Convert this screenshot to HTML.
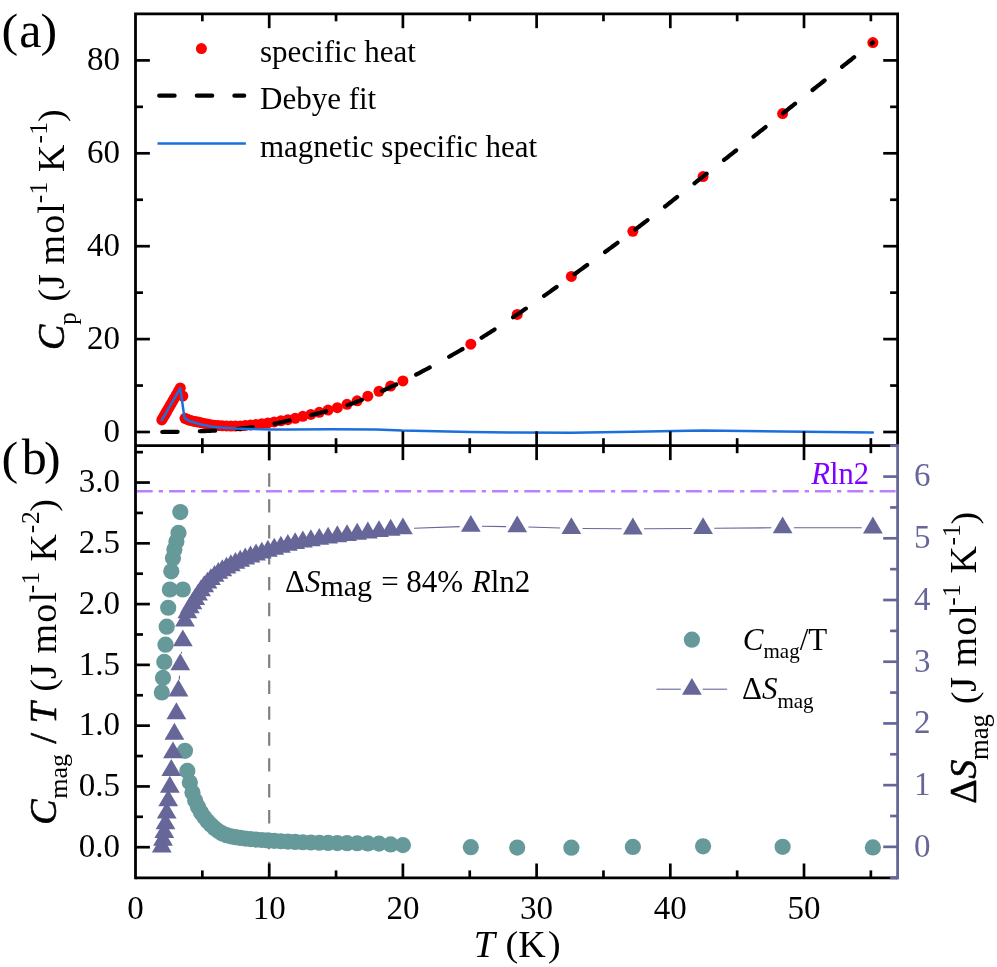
<!DOCTYPE html>
<html lang="en">
<head>
<meta charset="utf-8">
<title>Specific heat</title>
<style>html,body{margin:0;padding:0;background:#fff;}body{width:997px;height:967px;overflow:hidden;font-family:"Liberation Serif",serif;}svg{display:block;will-change:transform;}</style>
</head>
<body>
<svg width="997" height="967" viewBox="0 0 997 967">
<rect width="997" height="967" fill="#fff"/>
<line x1="269.2" y1="447.4" x2="269.2" y2="877.9" stroke="#808080" stroke-width="2.2" stroke-dasharray="13.4 12.5"/>
<line x1="136.7" y1="491.22" x2="897.6" y2="491.22" stroke="#bb80ff" stroke-width="2.6" stroke-dasharray="16 6 4.3 6"/>
<g fill="#ff0000"><circle cx="161.8" cy="419.92" r="5.5"/><circle cx="163" cy="417.85" r="5.5"/><circle cx="164.3" cy="415.61" r="5.5"/><circle cx="165.5" cy="413.54" r="5.5"/><circle cx="166.7" cy="411.47" r="5.5"/><circle cx="168.2" cy="408.88" r="5.5"/><circle cx="169.85" cy="406.04" r="5.5"/><circle cx="171.3" cy="403.54" r="5.5"/><circle cx="172.95" cy="400.69" r="5.5"/><circle cx="174.4" cy="398.19" r="5.5"/><circle cx="176.4" cy="394.74" r="5.5"/><circle cx="178.5" cy="391.12" r="5.5"/><circle cx="180.3" cy="388.01" r="5.5"/><circle cx="182.83" cy="396" r="5.5"/><circle cx="184.97" cy="418.3" r="5.5"/><circle cx="187.34" cy="419.29" r="5.5"/><circle cx="189.83" cy="420.24" r="5.5"/><circle cx="192.44" cy="420.93" r="5.5"/><circle cx="195.17" cy="421.51" r="5.5"/><circle cx="198.03" cy="422.07" r="5.5"/><circle cx="201.04" cy="422.68" r="5.5"/><circle cx="204.18" cy="423.39" r="5.5"/><circle cx="207.48" cy="424.11" r="5.5"/><circle cx="210.93" cy="424.73" r="5.5"/><circle cx="214.55" cy="425.18" r="5.5"/><circle cx="218.34" cy="425.56" r="5.5"/><circle cx="222.32" cy="425.85" r="5.5"/><circle cx="226.49" cy="425.97" r="5.5"/><circle cx="230.85" cy="426.06" r="5.5"/><circle cx="235.43" cy="426.1" r="5.5"/><circle cx="240.22" cy="425.94" r="5.5"/><circle cx="245.25" cy="425.46" r="5.5"/><circle cx="250.51" cy="424.97" r="5.5"/><circle cx="256.03" cy="424.43" r="5.5"/><circle cx="261.82" cy="423.77" r="5.5"/><circle cx="267.88" cy="422.88" r="5.5"/><circle cx="274.23" cy="421.9" r="5.5"/><circle cx="280.89" cy="420.86" r="5.5"/><circle cx="287.87" cy="419.69" r="5.5"/><circle cx="295.18" cy="418.29" r="5.5"/><circle cx="302.84" cy="416.3" r="5.5"/><circle cx="310.87" cy="414.43" r="5.5"/><circle cx="319.29" cy="412.27" r="5.5"/><circle cx="328.11" cy="410.09" r="5.5"/><circle cx="337.35" cy="407.66" r="5.5"/><circle cx="347.04" cy="404.36" r="5.5"/><circle cx="357.19" cy="400.77" r="5.5"/><circle cx="367.83" cy="396.14" r="5.5"/><circle cx="378.98" cy="391.3" r="5.5"/><circle cx="390.66" cy="386.11" r="5.5"/><circle cx="402.9" cy="380.91" r="5.5"/><circle cx="470.82" cy="344.21" r="5.5"/><circle cx="517.22" cy="314.48" r="5.5"/><circle cx="571.37" cy="276.39" r="5.5"/><circle cx="632.87" cy="231.34" r="5.5"/><circle cx="703.06" cy="176.53" r="5.5"/><circle cx="782.62" cy="113.59" r="5.5"/><circle cx="872.87" cy="42.52" r="5.5"/></g>
<path d="M162.24 431.99 L164.02 431.97 L165.8 431.96 L167.58 431.94 L169.36 431.93 L171.15 431.91 L172.93 431.89 L174.71 431.87 L176.49 431.85 L178.27 431.83 L180.05 431.8 L181.83 431.77 L183.61 431.74 L185.39 431.71 L187.17 431.67 L188.96 431.63 L190.74 431.58 L192.52 431.53 L194.3 431.47 L196.08 431.41 L197.86 431.34 L199.64 431.27 L201.42 431.2 L203.2 431.13 L204.98 431.05 L206.77 430.97 L208.55 430.89 L210.33 430.8 L212.11 430.71 L213.89 430.62 L215.67 430.52 L217.45 430.41 L219.23 430.31 L221.01 430.2 L222.79 430.09 L224.58 429.97 L226.36 429.85 L228.14 429.72 L229.92 429.59 L231.7 429.46 L233.48 429.31 L235.26 429.16 L237.04 429.01 L238.82 428.83 L240.6 428.64 L242.39 428.44 L244.17 428.23 L245.95 428 L247.73 427.77 L249.51 427.54 L251.29 427.3 L253.07 427.06 L254.85 426.81 L256.63 426.56 L258.42 426.3 L260.2 426.03 L261.98 425.76 L263.76 425.49 L265.54 425.2 L267.32 424.91 L269.1 424.61 L270.88 424.31 L272.66 423.99 L274.44 423.67 L276.23 423.34 L278.01 422.99 L279.79 422.62 L281.57 422.23 L283.35 421.82 L285.13 421.4 L286.91 420.97 L288.69 420.53 L290.47 420.09 L292.25 419.65 L294.04 419.22 L295.82 418.79 L297.6 418.37 L299.38 417.94 L301.16 417.51 L302.94 417.07 L304.72 416.64 L306.5 416.2 L308.28 415.76 L310.06 415.33 L311.85 414.89 L313.63 414.46 L315.41 414.03 L317.19 413.6 L318.97 413.16 L320.75 412.72 L322.53 412.28 L324.31 411.84 L326.09 411.39 L327.87 410.93 L329.66 410.47 L331.44 410 L333.22 409.52 L335 409.03 L336.78 408.53 L338.56 408 L340.34 407.46 L342.12 406.9 L343.9 406.33 L345.68 405.74 L347.47 405.15 L349.25 404.55 L351.03 403.94 L352.81 403.31 L354.59 402.67 L356.37 402.01 L358.15 401.33 L359.93 400.62 L361.71 399.89 L363.5 399.14 L365.28 398.38 L367.06 397.63 L368.84 396.87 L370.62 396.11 L372.4 395.35 L374.18 394.57 L375.96 393.79 L377.74 393.01 L379.52 392.21 L381.31 391.4 L383.09 390.58 L384.87 389.75 L386.65 388.91 L388.43 388.08 L390.21 387.25 L391.99 386.43 L393.77 385.62 L395.55 384.82 L397.33 384.01 L399.12 383.19 L400.9 382.35 L402.68 381.48 L404.46 380.59 L406.24 379.69 L408.02 378.78 L409.8 377.88 L411.58 376.96 L413.36 376.05 L415.14 375.12 L416.93 374.2 L418.71 373.27 L420.49 372.33 L422.27 371.39 L424.05 370.45 L425.83 369.5 L427.61 368.55 L429.39 367.6 L431.17 366.64 L432.95 365.67 L434.74 364.7 L436.52 363.73 L438.3 362.75 L440.08 361.77 L441.86 360.79 L443.64 359.8 L445.42 358.81 L447.2 357.81 L448.98 356.81 L450.76 355.8 L452.55 354.79 L454.33 353.78 L456.11 352.76 L457.89 351.74 L459.67 350.72 L461.45 349.69 L463.23 348.66 L465.01 347.62 L466.79 346.58 L468.57 345.53 L470.36 344.49 L472.14 343.43 L473.92 342.37 L475.7 341.3 L477.48 340.22 L479.26 339.13 L481.04 338.03 L482.82 336.92 L484.6 335.81 L486.39 334.69 L488.17 333.56 L489.95 332.43 L491.73 331.29 L493.51 330.14 L495.29 328.99 L497.07 327.83 L498.85 326.67 L500.63 325.51 L502.41 324.34 L504.2 323.16 L505.98 321.98 L507.76 320.8 L509.54 319.62 L511.32 318.43 L513.1 317.24 L514.88 316.05 L516.66 314.85 L518.44 313.66 L520.22 312.46 L522.01 311.25 L523.79 310.04 L525.57 308.82 L527.35 307.6 L529.13 306.37 L530.91 305.14 L532.69 303.9 L534.47 302.66 L536.25 301.42 L538.03 300.17 L539.82 298.92 L541.6 297.66 L543.38 296.4 L545.16 295.14 L546.94 293.88 L548.72 292.61 L550.5 291.34 L552.28 290.07 L554.06 288.8 L555.84 287.53 L557.63 286.25 L559.41 284.98 L561.19 283.7 L562.97 282.42 L564.75 281.14 L566.53 279.87 L568.31 278.59 L570.09 277.31 L571.87 276.03 L573.65 274.75 L575.44 273.47 L577.22 272.19 L579 270.91 L580.78 269.63 L582.56 268.34 L584.34 267.06 L586.12 265.77 L587.9 264.49 L589.68 263.2 L591.46 261.91 L593.25 260.62 L595.03 259.32 L596.81 258.03 L598.59 256.73 L600.37 255.44 L602.15 254.14 L603.93 252.83 L605.71 251.53 L607.49 250.22 L609.28 248.91 L611.06 247.6 L612.84 246.29 L614.62 244.98 L616.4 243.66 L618.18 242.34 L619.96 241.01 L621.74 239.69 L623.52 238.36 L625.3 237.03 L627.09 235.69 L628.87 234.35 L630.65 233.01 L632.43 231.67 L634.21 230.32 L635.99 228.97 L637.77 227.62 L639.55 226.26 L641.33 224.9 L643.11 223.53 L644.9 222.16 L646.68 220.79 L648.46 219.41 L650.24 218.04 L652.02 216.66 L653.8 215.27 L655.58 213.89 L657.36 212.5 L659.14 211.11 L660.92 209.72 L662.71 208.32 L664.49 206.93 L666.27 205.53 L668.05 204.13 L669.83 202.73 L671.61 201.33 L673.39 199.93 L675.17 198.52 L676.95 197.12 L678.73 195.71 L680.52 194.31 L682.3 192.9 L684.08 191.5 L685.86 190.09 L687.64 188.68 L689.42 187.28 L691.2 185.87 L692.98 184.47 L694.76 183.06 L696.54 181.66 L698.33 180.25 L700.11 178.85 L701.89 177.45 L703.67 176.05 L705.45 174.65 L707.23 173.25 L709.01 171.84 L710.79 170.44 L712.57 169.04 L714.35 167.63 L716.14 166.23 L717.92 164.82 L719.7 163.41 L721.48 162.01 L723.26 160.6 L725.04 159.19 L726.82 157.78 L728.6 156.37 L730.38 154.96 L732.17 153.55 L733.95 152.14 L735.73 150.73 L737.51 149.32 L739.29 147.9 L741.07 146.49 L742.85 145.08 L744.63 143.67 L746.41 142.26 L748.19 140.84 L749.98 139.43 L751.76 138.02 L753.54 136.61 L755.32 135.19 L757.1 133.78 L758.88 132.37 L760.66 130.96 L762.44 129.55 L764.22 128.13 L766 126.72 L767.79 125.31 L769.57 123.9 L771.35 122.49 L773.13 121.08 L774.91 119.67 L776.69 118.27 L778.47 116.86 L780.25 115.45 L782.03 114.05 L783.81 112.64 L785.6 111.23 L787.38 109.83 L789.16 108.42 L790.94 107.02 L792.72 105.61 L794.5 104.21 L796.28 102.81 L798.06 101.4 L799.84 100 L801.62 98.6 L803.41 97.19 L805.19 95.79 L806.97 94.39 L808.75 92.98 L810.53 91.58 L812.31 90.18 L814.09 88.77 L815.87 87.37 L817.65 85.97 L819.43 84.57 L821.22 83.17 L823 81.76 L824.78 80.36 L826.56 78.96 L828.34 77.56 L830.12 76.16 L831.9 74.76 L833.68 73.35 L835.46 71.95 L837.24 70.55 L839.03 69.15 L840.81 67.75 L842.59 66.35 L844.37 64.95 L846.15 63.54 L847.93 62.14 L849.71 60.74 L851.49 59.34 L853.27 57.94 L855.06 56.54 L856.84 55.13 L858.62 53.73 L860.4 52.33 L862.18 50.93 L863.96 49.53 L865.74 48.13 L867.52 46.72 L869.3 45.32 L871.08 43.92 L872.87 42.52" fill="none" stroke="#000" stroke-width="4.2" stroke-linecap="round" stroke-dasharray="15.4 22.2"/>
<path d="M161.8 420.16 L180.3 388.24 L184.17 415.74 L184.97 418.3 L190.32 421.32 L200.08 424.29 L212.11 426.7 L224.14 427.68 L236.18 428.52 L248.21 428.89 L260.24 429.21 L272.28 429.4 L289.93 429.45 L330.04 429.21 L376.16 429.45 L402.24 430.61 L470.82 432 L517.22 432.56 L571.37 432.79 L632.87 431.77 L703.06 430.61 L782.62 431.4 L872.87 432.6" fill="none" stroke="#1b6fdd" stroke-width="2.5" stroke-linejoin="round" stroke-linecap="round"/>
<g fill="#669999"><circle cx="161.8" cy="692.47" r="8.1"/><circle cx="163" cy="677.88" r="8.1"/><circle cx="164.3" cy="661.96" r="8.1"/><circle cx="165.5" cy="644.7" r="8.1"/><circle cx="166.7" cy="626.71" r="8.1"/><circle cx="168.2" cy="607.75" r="8.1"/><circle cx="169.85" cy="589.51" r="8.1"/><circle cx="171.3" cy="571.28" r="8.1"/><circle cx="172.95" cy="558.28" r="8.1"/><circle cx="174.4" cy="549.4" r="8.1"/><circle cx="176.4" cy="541.5" r="8.1"/><circle cx="178.5" cy="532.87" r="8.1"/><circle cx="180.3" cy="512.09" r="8.1"/><circle cx="182.83" cy="589.51" r="8.1"/><circle cx="184.97" cy="750.81" r="8.1"/><circle cx="187.34" cy="770.91" r="8.1"/><circle cx="189.83" cy="782.38" r="8.1"/><circle cx="192.44" cy="792.59" r="8.1"/><circle cx="195.17" cy="800.45" r="8.1"/><circle cx="198.03" cy="806.95" r="8.1"/><circle cx="201.04" cy="812.42" r="8.1"/><circle cx="204.18" cy="817.11" r="8.1"/><circle cx="207.48" cy="821.19" r="8.1"/><circle cx="210.93" cy="824.84" r="8.1"/><circle cx="214.55" cy="828.21" r="8.1"/><circle cx="218.34" cy="831.11" r="8.1"/><circle cx="222.32" cy="833.43" r="8.1"/><circle cx="226.49" cy="835.15" r="8.1"/><circle cx="230.85" cy="836.3" r="8.1"/><circle cx="235.43" cy="837.19" r="8.1"/><circle cx="240.22" cy="837.91" r="8.1"/><circle cx="245.25" cy="838.53" r="8.1"/><circle cx="250.51" cy="839.07" r="8.1"/><circle cx="256.03" cy="839.55" r="8.1"/><circle cx="261.82" cy="839.99" r="8.1"/><circle cx="267.88" cy="840.42" r="8.1"/><circle cx="274.23" cy="840.84" r="8.1"/><circle cx="280.89" cy="841.24" r="8.1"/><circle cx="287.87" cy="841.62" r="8.1"/><circle cx="295.18" cy="841.95" r="8.1"/><circle cx="302.84" cy="842.26" r="8.1"/><circle cx="310.87" cy="842.52" r="8.1"/><circle cx="319.29" cy="842.75" r="8.1"/><circle cx="328.11" cy="842.93" r="8.1"/><circle cx="337.35" cy="843.05" r="8.1"/><circle cx="347.04" cy="843.15" r="8.1"/><circle cx="357.19" cy="843.26" r="8.1"/><circle cx="367.83" cy="843.41" r="8.1"/><circle cx="378.98" cy="843.64" r="8.1"/><circle cx="390.66" cy="844.41" r="8.1"/><circle cx="402.9" cy="845.13" r="8.1"/><circle cx="470.82" cy="847.2" r="8.1"/><circle cx="517.22" cy="847.56" r="8.1"/><circle cx="571.37" cy="847.69" r="8.1"/><circle cx="632.87" cy="846.96" r="8.1"/><circle cx="703.06" cy="846.35" r="8.1"/><circle cx="782.62" cy="846.84" r="8.1"/><circle cx="872.87" cy="847.44" r="8.1"/></g>
<g stroke="#666699" stroke-width="1.1" fill="none"><line x1="179.27" y1="679.61" x2="179.53" y2="675.79"/><line x1="181.48" y1="653.48" x2="181.65" y2="651.88"/><line x1="414.1" y1="528.32" x2="459.63" y2="526.62"/><line x1="482.02" y1="526.32" x2="506.02" y2="526.58"/><line x1="528.41" y1="527.06" x2="560.17" y2="528.07"/><line x1="582.57" y1="528.49" x2="621.67" y2="528.73"/><line x1="644.07" y1="528.74" x2="691.86" y2="528.49"/><line x1="714.26" y1="528.32" x2="771.42" y2="527.79"/><line x1="793.82" y1="527.7" x2="861.67" y2="527.79"/></g>
<g fill="#666699"><path d="M161.8 835.58 L171.7 852.48 L151.9 852.48 Z"/><path d="M163 828.8 L172.9 845.7 L153.1 845.7 Z"/><path d="M164.3 821.14 L174.2 838.04 L154.4 838.04 Z"/><path d="M165.5 812.44 L175.4 829.34 L155.6 829.34 Z"/><path d="M166.7 801.64 L176.6 818.54 L156.8 818.54 Z"/><path d="M168.2 789.42 L178.1 806.32 L158.3 806.32 Z"/><path d="M169.85 775.85 L179.75 792.75 L159.95 792.75 Z"/><path d="M171.3 759.06 L181.2 775.96 L161.4 775.96 Z"/><path d="M172.95 741.41 L182.85 758.31 L163.05 758.31 Z"/><path d="M174.4 722.78 L184.3 739.68 L164.5 739.68 Z"/><path d="M176.4 702.29 L186.3 719.19 L166.5 719.19 Z"/><path d="M178.5 679.52 L188.4 696.42 L168.6 696.42 Z"/><path d="M180.3 653.35 L190.2 670.25 L170.4 670.25 Z"/><path d="M182.83 629.47 L192.73 646.37 L172.93 646.37 Z"/><path d="M184.97 609.72 L194.87 626.62 L175.07 626.62 Z"/><path d="M187.34 601.46 L197.24 618.36 L177.44 618.36 Z"/><path d="M189.83 596.42 L199.73 613.32 L179.93 613.32 Z"/><path d="M192.44 592.24 L202.34 609.14 L182.54 609.14 Z"/><path d="M195.17 588.05 L205.07 604.95 L185.27 604.95 Z"/><path d="M198.03 583.64 L207.93 600.54 L188.13 600.54 Z"/><path d="M201.04 579.35 L210.94 596.25 L191.14 596.25 Z"/><path d="M204.18 575.36 L214.08 592.26 L194.28 592.26 Z"/><path d="M207.48 571.65 L217.38 588.55 L197.58 588.55 Z"/><path d="M210.93 568.14 L220.83 585.04 L201.03 585.04 Z"/><path d="M214.55 564.91 L224.45 581.81 L204.65 581.81 Z"/><path d="M218.34 561.97 L228.24 578.87 L208.44 578.87 Z"/><path d="M222.32 559.26 L232.22 576.16 L212.42 576.16 Z"/><path d="M226.49 556.72 L236.39 573.62 L216.59 573.62 Z"/><path d="M230.85 554.29 L240.75 571.19 L220.95 571.19 Z"/><path d="M235.43 551.96 L245.33 568.86 L225.53 568.86 Z"/><path d="M240.22 549.73 L250.12 566.63 L230.32 566.63 Z"/><path d="M245.25 547.59 L255.15 564.49 L235.35 564.49 Z"/><path d="M250.51 545.53 L260.41 562.43 L240.61 562.43 Z"/><path d="M256.03 543.57 L265.93 560.47 L246.13 560.47 Z"/><path d="M261.82 541.67 L271.72 558.57 L251.92 558.57 Z"/><path d="M267.88 539.78 L277.78 556.68 L257.98 556.68 Z"/><path d="M274.23 537.83 L284.13 554.73 L264.33 554.73 Z"/><path d="M280.89 535.82 L290.79 552.72 L270.99 552.72 Z"/><path d="M287.87 533.89 L297.77 550.79 L277.97 550.79 Z"/><path d="M295.18 532.13 L305.08 549.03 L285.28 549.03 Z"/><path d="M302.84 530.62 L312.74 547.52 L292.94 547.52 Z"/><path d="M310.87 529.24 L320.77 546.14 L300.97 546.14 Z"/><path d="M319.29 527.94 L329.19 544.84 L309.39 544.84 Z"/><path d="M328.11 526.65 L338.01 543.55 L318.21 543.55 Z"/><path d="M337.35 525.37 L347.25 542.27 L327.45 542.27 Z"/><path d="M347.04 524.13 L356.94 541.03 L337.14 541.03 Z"/><path d="M357.19 522.86 L367.09 539.76 L347.29 539.76 Z"/><path d="M367.83 521.54 L377.73 538.44 L357.93 538.44 Z"/><path d="M378.98 520.19 L388.88 537.09 L369.08 537.09 Z"/><path d="M390.66 518.83 L400.56 535.73 L380.76 535.73 Z"/><path d="M402.9 517.47 L412.8 534.37 L393 534.37 Z"/><path d="M470.82 514.94 L480.72 531.84 L460.92 531.84 Z"/><path d="M517.22 515.43 L527.12 532.33 L507.32 532.33 Z"/><path d="M571.37 517.16 L581.27 534.06 L561.47 534.06 Z"/><path d="M632.87 517.53 L642.77 534.43 L622.97 534.43 Z"/><path d="M703.06 517.16 L712.96 534.06 L693.16 534.06 Z"/><path d="M782.62 516.42 L792.52 533.32 L772.72 533.32 Z"/><path d="M872.87 516.54 L882.77 533.44 L862.97 533.44 Z"/></g>
<g stroke="#000" stroke-width="2.8" fill="none" stroke-linecap="butt">
<path d="M135.5 879.3 L135.5 13.8 L897.6 13.8 L897.6 445.7"/>
<line x1="135.5" y1="445.7" x2="897.6" y2="445.7"/>
<line x1="135.5" y1="877.9" x2="897.6" y2="877.9"/>
</g>
<g stroke="#000" stroke-width="2.7"><line x1="202.35" y1="13.8" x2="202.35" y2="21.3"/><line x1="202.35" y1="438.2" x2="202.35" y2="453.2"/><line x1="202.35" y1="870.4" x2="202.35" y2="877.9"/><line x1="269.2" y1="13.8" x2="269.2" y2="28.2"/><line x1="269.2" y1="431.3" x2="269.2" y2="460.1"/><line x1="269.2" y1="863.5" x2="269.2" y2="877.9"/><line x1="336.05" y1="13.8" x2="336.05" y2="21.3"/><line x1="336.05" y1="438.2" x2="336.05" y2="453.2"/><line x1="336.05" y1="870.4" x2="336.05" y2="877.9"/><line x1="402.9" y1="13.8" x2="402.9" y2="28.2"/><line x1="402.9" y1="431.3" x2="402.9" y2="460.1"/><line x1="402.9" y1="863.5" x2="402.9" y2="877.9"/><line x1="469.75" y1="13.8" x2="469.75" y2="21.3"/><line x1="469.75" y1="438.2" x2="469.75" y2="453.2"/><line x1="469.75" y1="870.4" x2="469.75" y2="877.9"/><line x1="536.61" y1="13.8" x2="536.61" y2="28.2"/><line x1="536.61" y1="431.3" x2="536.61" y2="460.1"/><line x1="536.61" y1="863.5" x2="536.61" y2="877.9"/><line x1="603.46" y1="13.8" x2="603.46" y2="21.3"/><line x1="603.46" y1="438.2" x2="603.46" y2="453.2"/><line x1="603.46" y1="870.4" x2="603.46" y2="877.9"/><line x1="670.31" y1="13.8" x2="670.31" y2="28.2"/><line x1="670.31" y1="431.3" x2="670.31" y2="460.1"/><line x1="670.31" y1="863.5" x2="670.31" y2="877.9"/><line x1="737.16" y1="13.8" x2="737.16" y2="21.3"/><line x1="737.16" y1="438.2" x2="737.16" y2="453.2"/><line x1="737.16" y1="870.4" x2="737.16" y2="877.9"/><line x1="804.01" y1="13.8" x2="804.01" y2="28.2"/><line x1="804.01" y1="431.3" x2="804.01" y2="460.1"/><line x1="804.01" y1="863.5" x2="804.01" y2="877.9"/><line x1="870.86" y1="13.8" x2="870.86" y2="21.3"/><line x1="870.86" y1="438.2" x2="870.86" y2="453.2"/><line x1="870.86" y1="870.4" x2="870.86" y2="877.9"/><line x1="135.5" y1="432" x2="149.9" y2="432"/><line x1="883.2" y1="432" x2="897.6" y2="432"/><line x1="135.5" y1="385.55" x2="143" y2="385.55"/><line x1="890.1" y1="385.55" x2="897.6" y2="385.55"/><line x1="135.5" y1="339.1" x2="149.9" y2="339.1"/><line x1="883.2" y1="339.1" x2="897.6" y2="339.1"/><line x1="135.5" y1="292.65" x2="143" y2="292.65"/><line x1="890.1" y1="292.65" x2="897.6" y2="292.65"/><line x1="135.5" y1="246.2" x2="149.9" y2="246.2"/><line x1="883.2" y1="246.2" x2="897.6" y2="246.2"/><line x1="135.5" y1="199.75" x2="143" y2="199.75"/><line x1="890.1" y1="199.75" x2="897.6" y2="199.75"/><line x1="135.5" y1="153.3" x2="149.9" y2="153.3"/><line x1="883.2" y1="153.3" x2="897.6" y2="153.3"/><line x1="135.5" y1="106.85" x2="143" y2="106.85"/><line x1="890.1" y1="106.85" x2="897.6" y2="106.85"/><line x1="135.5" y1="60.4" x2="149.9" y2="60.4"/><line x1="883.2" y1="60.4" x2="897.6" y2="60.4"/><line x1="135.5" y1="847.2" x2="149.9" y2="847.2"/><line x1="135.5" y1="816.81" x2="143" y2="816.81"/><line x1="135.5" y1="786.43" x2="149.9" y2="786.43"/><line x1="135.5" y1="756.04" x2="143" y2="756.04"/><line x1="135.5" y1="725.65" x2="149.9" y2="725.65"/><line x1="135.5" y1="695.26" x2="143" y2="695.26"/><line x1="135.5" y1="664.88" x2="149.9" y2="664.88"/><line x1="135.5" y1="634.49" x2="143" y2="634.49"/><line x1="135.5" y1="604.1" x2="149.9" y2="604.1"/><line x1="135.5" y1="573.71" x2="143" y2="573.71"/><line x1="135.5" y1="543.33" x2="149.9" y2="543.33"/><line x1="135.5" y1="512.94" x2="143" y2="512.94"/><line x1="135.5" y1="482.55" x2="149.9" y2="482.55"/><line x1="135.5" y1="452.16" x2="143" y2="452.16"/></g>
<g stroke="#666699" stroke-width="2.8">
<line x1="897.6" y1="444.3" x2="897.6" y2="879.3"/>
<line x1="890.1" y1="877.9" x2="897.6" y2="877.9" stroke-width="2.7"/>
<line x1="883.2" y1="846.85" x2="897.6" y2="846.85" stroke-width="2.7"/>
<line x1="890.1" y1="816" x2="897.6" y2="816" stroke-width="2.7"/>
<line x1="883.2" y1="785.14" x2="897.6" y2="785.14" stroke-width="2.7"/>
<line x1="890.1" y1="754.29" x2="897.6" y2="754.29" stroke-width="2.7"/>
<line x1="883.2" y1="723.43" x2="897.6" y2="723.43" stroke-width="2.7"/>
<line x1="890.1" y1="692.58" x2="897.6" y2="692.58" stroke-width="2.7"/>
<line x1="883.2" y1="661.72" x2="897.6" y2="661.72" stroke-width="2.7"/>
<line x1="890.1" y1="630.87" x2="897.6" y2="630.87" stroke-width="2.7"/>
<line x1="883.2" y1="600.01" x2="897.6" y2="600.01" stroke-width="2.7"/>
<line x1="890.1" y1="569.15" x2="897.6" y2="569.15" stroke-width="2.7"/>
<line x1="883.2" y1="538.3" x2="897.6" y2="538.3" stroke-width="2.7"/>
<line x1="890.1" y1="507.44" x2="897.6" y2="507.44" stroke-width="2.7"/>
<line x1="883.2" y1="476.59" x2="897.6" y2="476.59" stroke-width="2.7"/>
<line x1="890.1" y1="445.7" x2="897.6" y2="445.7" stroke-width="2.7"/>
</g>
<g font-family="'Liberation Serif', serif" fill="#000">
<g font-size="33">
<text x="120" y="441.8" text-anchor="end">0</text>
<text x="120" y="348.9" text-anchor="end">20</text>
<text x="120" y="256" text-anchor="end">40</text>
<text x="120" y="163.1" text-anchor="end">60</text>
<text x="120" y="70.2" text-anchor="end">80</text>
<text x="120" y="857" text-anchor="end">0.0</text>
<text x="120" y="796.23" text-anchor="end">0.5</text>
<text x="120" y="735.45" text-anchor="end">1.0</text>
<text x="120" y="674.67" text-anchor="end">1.5</text>
<text x="120" y="613.9" text-anchor="end">2.0</text>
<text x="120" y="553.12" text-anchor="end">2.5</text>
<text x="120" y="492.35" text-anchor="end">3.0</text>
<text x="135.5" y="918.7" text-anchor="middle">0</text>
<text x="269.2" y="918.7" text-anchor="middle">10</text>
<text x="402.9" y="918.7" text-anchor="middle">20</text>
<text x="536.61" y="918.7" text-anchor="middle">30</text>
<text x="670.31" y="918.7" text-anchor="middle">40</text>
<text x="804.01" y="918.7" text-anchor="middle">50</text>
<g fill="#666699">
<text x="914" y="856.75">0</text>
<text x="914" y="795.04">1</text>
<text x="914" y="733.33">2</text>
<text x="914" y="671.62">3</text>
<text x="914" y="609.91">4</text>
<text x="914" y="548.2">5</text>
<text x="914" y="486.49">6</text>
</g></g>
<text transform="translate(1.5 47) translate(0 -0.9) scale(1 0.945)" font-size="50">(</text>
<text transform="translate(19.24 47)" font-size="50">a</text>
<text transform="translate(40.39 47) translate(0 -0.9) scale(1 0.945)" font-size="50">)</text>
<text transform="translate(1.5 474.4) translate(0 -0.9) scale(1 0.945)" font-size="50">(</text>
<text transform="translate(21.8 474.4)" font-size="50">b</text>
<text transform="translate(43.89 474.4) translate(0 -0.9) scale(1 0.945)" font-size="50">)</text>
<text transform="translate(473.81 956.8)" font-size="38" font-style="italic">T</text>
<text transform="translate(505.53 956.8) translate(0 -0.9) scale(1 0.945)" font-size="38">(</text>
<text transform="translate(518.31 956.8)" font-size="38">K</text>
<text transform="translate(548.08 956.8) translate(0 -0.9) scale(1 0.945)" font-size="38">)</text>
<text transform="translate(63.5 350.02) rotate(-90)" font-size="38" font-style="italic" stroke="#000" stroke-width="0.55">C</text>
<text transform="translate(75.5 325.01) rotate(-90)" font-size="25.5">p</text>
<text transform="translate(63.5 301.77) rotate(-90) translate(0 -0.8) scale(1 0.945)" font-size="38">(</text>
<text transform="translate(63.5 289) rotate(-90)" font-size="38">J</text>
<text transform="translate(63.5 264.6) rotate(-90)" font-size="38" letter-spacing="1.2">mol</text>
<text transform="translate(47.3 203.25) rotate(-90)" font-size="25.5">-</text>
<text transform="translate(47.3 194.44) rotate(-90)" font-size="25.5">1</text>
<text transform="translate(63.5 172.09) rotate(-90)" font-size="38">K</text>
<text transform="translate(47.3 143.55) rotate(-90)" font-size="25.5">-</text>
<text transform="translate(47.3 134.64) rotate(-90)" font-size="25.5">1</text>
<text transform="translate(63.5 122.02) rotate(-90) translate(0 -0.8) scale(1 0.945)" font-size="38">)</text>
<text transform="translate(55.6 824.72) rotate(-90)" font-size="38" font-style="italic" stroke="#000" stroke-width="0.55">C</text>
<text transform="translate(66.8 798.75) rotate(-90)" font-size="26">mag</text>
<text transform="translate(55.6 743.6) rotate(-90)" font-size="38" stroke="#000" stroke-width="0.55">/</text>
<text transform="translate(55.6 723.59) rotate(-90)" font-size="38" font-style="italic" stroke="#000" stroke-width="0.55">T</text>
<text transform="translate(55.6 691.67) rotate(-90) translate(0 -0.8) scale(1 0.945)" font-size="38">(</text>
<text transform="translate(55.6 679.1) rotate(-90)" font-size="38">J</text>
<text transform="translate(55.6 653.5) rotate(-90)" font-size="38" letter-spacing="1.2">mol</text>
<text transform="translate(39.4 593.25) rotate(-90)" font-size="25.5">-</text>
<text transform="translate(39.4 584.54) rotate(-90)" font-size="25.5">1</text>
<text transform="translate(55.6 561.59) rotate(-90)" font-size="38">K</text>
<text transform="translate(39.4 533.35) rotate(-90)" font-size="25.5">-</text>
<text transform="translate(39.4 524.12) rotate(-90)" font-size="25.5">2</text>
<text transform="translate(55.6 511.82) rotate(-90) translate(0 -0.8) scale(1 0.945)" font-size="38">)</text>
<text transform="translate(976.4 803.75) rotate(-90)" font-size="38" stroke="#000" stroke-width="0.55">Δ</text>
<text transform="translate(976.4 778.85) rotate(-90)" font-size="38" font-style="italic" stroke="#000" stroke-width="0.55">S</text>
<text transform="translate(987.6 759.96) rotate(-90)" font-size="26.6">mag</text>
<text transform="translate(976.4 704.17) rotate(-90) translate(0 -0.8) scale(1 0.945)" font-size="38">(</text>
<text transform="translate(976.4 691.8) rotate(-90)" font-size="38">J</text>
<text transform="translate(976.4 666.6) rotate(-90)" font-size="38" letter-spacing="1.2">mol</text>
<text transform="translate(960.4 605.75) rotate(-90)" font-size="25.5">-</text>
<text transform="translate(960.4 596.99) rotate(-90)" font-size="25.5">1</text>
<text transform="translate(976.4 573.59) rotate(-90)" font-size="38">K</text>
<text transform="translate(960.4 545.55) rotate(-90)" font-size="25.5">-</text>
<text transform="translate(960.4 536.89) rotate(-90)" font-size="25.5">1</text>
<text transform="translate(976.4 524.52) rotate(-90) translate(0 -0.8) scale(1 0.945)" font-size="38">)</text>
<g font-size="31">
<text x="260" y="62">specific heat</text>
<text x="260" y="108.5">Debye fit</text>
<text x="260" y="156.9">magnetic specific heat</text>
</g>
<circle cx="201.4" cy="48.6" r="5.5" fill="#ff0000"/>
<line x1="159.2" y1="95.7" x2="244.2" y2="95.7" stroke="#000" stroke-width="4.2" stroke-linecap="round" stroke-dasharray="15.4 22.2"/>
<line x1="157.5" y1="143.4" x2="245.9" y2="143.4" stroke="#1b6fdd" stroke-width="2.5"/>
<text x="811.3" y="483.5" font-size="30.6" fill="#8000ff"><tspan font-style="italic">R</tspan>ln2</text>
<text x="285" y="592.1" font-size="31">Δ<tspan font-style="italic">S</tspan><tspan font-size="30" dy="4.2">mag</tspan><tspan dy="-4.2" dx="1.3"> = 84% </tspan><tspan font-style="italic" dx="0.8">R</tspan>ln2</text>
<circle cx="691.9" cy="639.7" r="8.1" fill="#669999"/>
<text x="742.8" y="650.3" font-size="31"><tspan font-style="italic">C</tspan><tspan font-size="21" dy="7.5">mag</tspan><tspan dy="-7.5">/T</tspan></text>
<g stroke="#666699" stroke-width="1.1"><line x1="656.5" y1="689.2" x2="680.8" y2="689.2"/><line x1="702.6" y1="689.2" x2="727.2" y2="689.2"/></g>
<g fill="#666699"><path d="M691.9 677.93 L701.8 694.83 L682 694.83 Z"/></g>
<text x="742.0" y="699.3" font-size="31">Δ<tspan font-style="italic">S</tspan><tspan font-size="21" dy="8.2">mag</tspan></text>
</g>
</svg>
</body>
</html>
